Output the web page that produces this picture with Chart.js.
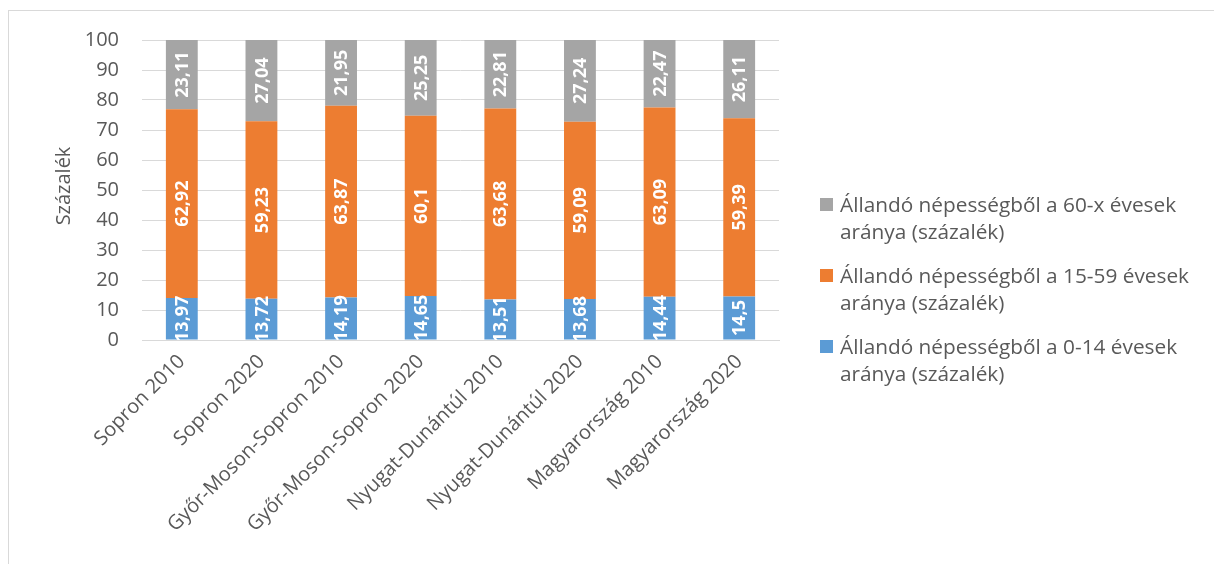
<!DOCTYPE html>
<html>
<head>
<meta charset="utf-8">
<script src="https://cdn.jsdelivr.net/npm/chart.js@4"></script>
<style>
    body { margin: 0; background: #fff; }
    #wrap { position: relative; width: 1214px; height: 564px; }
    #frame { position: absolute; left: 8px; top: 10px; width: 1220px; height: 600px; border: 1px solid #d9d9d9; box-sizing: border-box; }
    #legend { position: absolute; left: 820px; top: 191px; font-family: "Open Sans", sans-serif; font-size: 20.8px; color: #595959; line-height: 27px; }
    .item { position: relative; padding-left: 20px; margin-bottom: 17px; white-space: nowrap; }
    .box { position: absolute; left: 0; top: 7px; width: 13px; height: 13px; }
</style>
</head>
<body>
<div id="wrap">
    <div id="frame"></div>
    <canvas id="myChart" width="1214" height="564"></canvas>
    <div id="legend"></div>
</div>
<script>
const categories = ['Sopron 2010', 'Sopron 2020', 'Győr-Moson-Sopron 2010', 'Győr-Moson-Sopron 2020',
    'Nyugat-Dunántúl 2010', 'Nyugat-Dunántúl 2020', 'Magyarország 2010', 'Magyarország 2020'];
const age0_14 = [13.97, 13.72, 14.19, 14.65, 13.51, 13.68, 14.44, 14.5];
const age15_59 = [62.92, 59.23, 63.87, 60.1, 63.68, 59.09, 63.09, 59.39];
const age60 = [23.11, 27.04, 21.95, 25.25, 22.81, 27.24, 22.47, 26.11];
const seriesNames = ['Állandó népességből a 0-14 évesek aránya (százalék)',
    'Állandó népességből a 15-59 évesek aránya (százalék)',
    'Állandó népességből a 60-x évesek aránya (százalék)'];
const yTicks = [0, 10, 20, 30, 40, 50, 60, 70, 80, 90, 100];
const yTitle = 'Százalék';

const colors = ['#5B9BD5', '#ED7D31', '#A5A5A5'];
const fontFamily = '"Open Sans", sans-serif';
const textColor = '#595959';

Chart.defaults.font.family = fontFamily;
Chart.defaults.color = textColor;

// felirat a sávok közepére, 90 fokkal elforgatva + tengelycím
const barLabels = {
    id: 'barLabels',
    afterDatasetsDraw(chart) {
        const ctx = chart.ctx;
        const area = chart.chartArea;
        ctx.save();
        ctx.beginPath();
        ctx.rect(area.left, area.top, area.right - area.left, area.bottom - area.top);
        ctx.clip();
        ctx.fillStyle = '#fff';
        ctx.font = 'bold 18px ' + fontFamily;
        ctx.textAlign = 'center';
        ctx.textBaseline = 'middle';
        chart.data.datasets.forEach(function(ds, i) {
            chart.getDatasetMeta(i).data.forEach(function(bar, j) {
                const cy = (bar.y + bar.base) / 2;
                ctx.save();
                ctx.translate(bar.x + 1, cy);
                ctx.rotate(-Math.PI / 2);
                ctx.fillText(String(ds.data[j]).replace('.', ','), 0, 0);
                ctx.restore();
            });
        });
        ctx.restore();

        // y tengely címe
        ctx.save();
        ctx.fillStyle = textColor;
        ctx.font = '20px ' + fontFamily;
        ctx.textAlign = 'center';
        ctx.textBaseline = 'middle';
        ctx.translate(64, (area.top + area.bottom) / 2 - 4);
        ctx.rotate(-Math.PI / 2);
        ctx.fillText(yTitle, 0, 0);
        ctx.restore();
    }
};

const datasets = [age0_14, age15_59, age60].map(function(values, i) {
    return {
        label: seriesNames[i],
        data: values,
        backgroundColor: colors[i],
        barPercentage: 0.8,
        categoryPercentage: 0.5
    };
});

const config = {
    type: 'bar',
    data: { labels: categories, datasets: datasets },
    options: {
        responsive: false,
        animation: false,
        layout: { padding: { left: 50, top: 40, right: 435, bottom: 0 } },
        plugins: { legend: { display: false }, tooltip: { enabled: false } },
        scales: {
            x: {
                stacked: true,
                grid: { display: false },
                border: { display: true, color: '#d9d9d9' },
                ticks: {
                    color: textColor,
                    font: { family: fontFamily, size: 20 },
                    minRotation: 45,
                    maxRotation: 45,
                    autoSkip: false,
                    padding: 2
                },
                afterFit: function(scale) { scale.height = 224; }
            },
            y: {
                stacked: true,
                min: 0,
                max: 100,
                afterBuildTicks: function(scale) { scale.ticks = yTicks.map(v => ({ value: v })); },
                grid: { color: '#d9d9d9', drawTicks: false },
                border: { display: false },
                ticks: {
                    color: textColor,
                    font: { family: fontFamily, size: 20 },
                    padding: 23
                },
                afterFit: function(scale) { scale.width = 92; }
            }
        }
    },
    plugins: [barLabels]
};

const chart = new Chart(document.getElementById('myChart'), config);

// jelmagyarázat, fordított sorrendben mint az Excelben
const legend = document.getElementById('legend');
for (let i = seriesNames.length - 1; i >= 0; i--) {
    const item = document.createElement('div');
    item.className = 'item';
    const box = document.createElement('span');
    box.className = 'box';
    box.style.background = colors[i];
    item.appendChild(box);
    const parts = seriesNames[i].split(' évesek ');
    item.appendChild(document.createTextNode(parts[0] + ' évesek'));
    item.appendChild(document.createElement('br'));
    item.appendChild(document.createTextNode(parts[1]));
    legend.appendChild(item);
}
</script>
</body>
</html>
